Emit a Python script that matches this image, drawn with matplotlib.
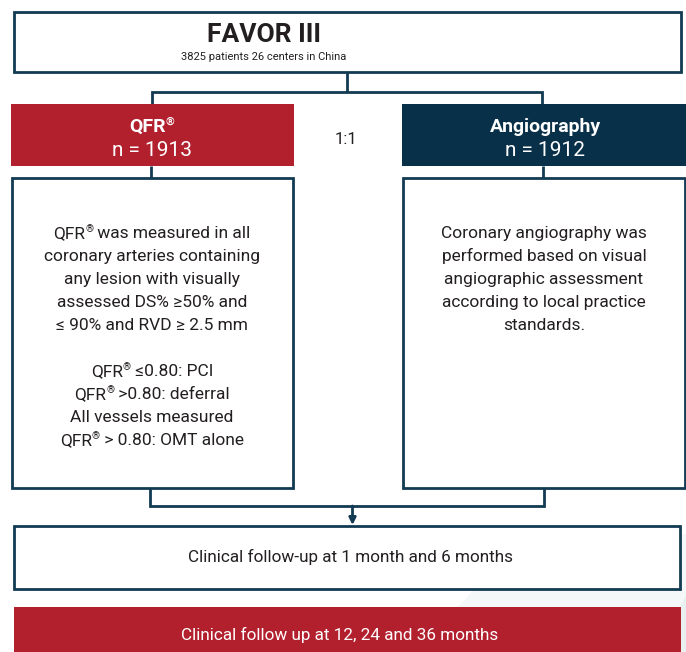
import matplotlib
matplotlib.use("Agg")
import matplotlib.pyplot as plt
from matplotlib.patches import Rectangle, Polygon, FancyArrowPatch
from matplotlib import font_manager as fm

names = {f.name for f in fm.fontManager.ttflist}
FONT = "Liberation Sans Narrow" if "Liberation Sans Narrow" in names else "Roboto"
plt.rcParams['font.family'] = [FONT, 'DejaVu Sans']

# ---- content ----  (® is drawn as a small superscript)
title = "FAVOR III"
subtitle = "3825 patients 26 centers in China"
arm_names = ["QFR®", "Angiography"]
arm_n = [1913, 1912]
ratio = "1:1"
qfr_lines = [
    "QFR® was measured in all",
    "coronary arteries containing",
    "any lesion with visually",
    "assessed DS% ≥50% and",
    "≤ 90% and RVD ≥ 2.5 mm",
    "",
    "QFR® ≤0.80: PCI",
    "QFR® >0.80: deferral",
    "All vessels measured",
    "QFR® > 0.80: OMT alone",
]
angio_lines = [
    "Coronary angiography was",
    "performed based on visual",
    "angiographic assessment",
    "according to local practice",
    "standards.",
]
followup_1 = "Clinical follow-up at 1 month and 6 months"
followup_2 = "Clinical follow up at 12, 24 and 36 months"

RED = "#b2202e"
NAVY = "#083048"
EDGE = "#123a52"
TXT = "#231f20"

W, H = 686, 652
fig = plt.figure(figsize=(W / 100, H / 100), dpi=100)
ax = fig.add_axes([0, 0, 1, 1])
ax.set_xlim(0, W)
ax.set_ylim(H, 0)
ax.axis("off")
renderer = fig.canvas.get_renderer()


def rich_line(x, y, s, size, color, weight="normal"):
    """Draw a centered line on baseline y, with ® as a small superscript."""
    segs = []
    parts = s.split("®")
    for i, p in enumerate(parts):
        if p:
            segs.append((p, size, 0.0))
        if i < len(parts) - 1:
            segs.append(("®", size * 0.58, size * 0.5))
    objs = []
    total = 0.0
    for txt, sz, raise_pt in segs:
        t = ax.text(0, y - raise_pt, txt, ha="left", va="baseline", fontsize=sz,
                    color=color, fontweight=weight, zorder=5)
        w = t.get_window_extent(renderer).width
        objs.append((t, w))
        total += w
    cur = x - total / 2
    for t, w in objs:
        t.set_x(cur)
        cur += w


# faint decorative background
deco = Polygon([(432, 652), (455, 610), (490, 572), (530, 548), (570, 536), (600, 534),
                (686, 534), (686, 652)], closed=True, fc="#f4f8f8", ec="none", zorder=0)
ax.add_patch(deco)
deco2 = Polygon([(655, 652), (686, 596), (686, 652)], closed=True, fc="#e8f1f0", ec="none", zorder=0)
ax.add_patch(deco2)


def box(x0, y0, x1, y1, fc="white", ec=EDGE, lw=2.0, z=2):
    ax.add_patch(Rectangle((x0, y0), x1 - x0, y1 - y0, fc=fc, ec=ec, lw=lw, zorder=z))


# top box
box(14, 12, 681, 72)
ax.text(264, 35, title, ha="center", va="center", fontsize=19, fontweight="bold", color=TXT, zorder=5)
ax.text(264, 57, subtitle, ha="center", va="center", fontsize=8, color=TXT, zorder=5)

# connectors top
lk = dict(color=EDGE, lw=2.0, zorder=1, solid_capstyle="butt", solid_joinstyle="miter")
ax.plot([347, 347], [72, 92], **lk)
ax.plot([152, 152, 542, 542], [104, 92, 92, 104], **lk)

# arm boxes
cx = [152, 545]
box(11, 104, 294, 166, fc=RED, ec="none", lw=0)
box(402, 104, 686, 166, fc=NAVY, ec="none", lw=0)
for i in range(2):
    rich_line(cx[i], 132, arm_names[i], 14, "white", weight="bold")
    ax.text(cx[i], 151, f"n = {arm_n[i]}", ha="center", va="center", fontsize=15,
            fontweight="normal", color="white", zorder=5)
ax.text(346, 140, ratio, ha="center", va="center", fontsize=12, color=TXT, zorder=5)

# arm to detail connectors
ax.plot([151, 151], [166, 178], **lk)
ax.plot([543, 543], [166, 178], **lk)

# detail boxes
box(12, 178, 293, 488)
box(403, 178, 685, 488)
ys = [238, 261, 284, 307, 330, 353, 376, 399, 422, 445]
for ln, y in zip(qfr_lines, ys):
    if ln:
        rich_line(152, y, ln, 12.5, TXT)
for ln, y in zip(angio_lines, ys):
    rich_line(544, y, ln, 12.5, TXT)

# bottom connector
ax.plot([150, 150, 544, 544], [488, 506, 506, 488], **lk)
arr = FancyArrowPatch((352.5, 506), (352.5, 525), arrowstyle="-|>", mutation_scale=10,
                      color=EDGE, lw=2.0, zorder=1, shrinkA=0, shrinkB=0)
ax.add_patch(arr)

# follow-up boxes
box(14, 526, 680, 589)
ax.text(351, 557, followup_1, ha="center", va="center", fontsize=12.3, color=TXT, zorder=5)
box(14, 607, 681, 660, fc=RED, ec="none", lw=0)
ax.text(340, 635, followup_2, ha="center", va="center", fontsize=12.3, color="white", zorder=5)

fig.savefig("out.png", dpi=100)
